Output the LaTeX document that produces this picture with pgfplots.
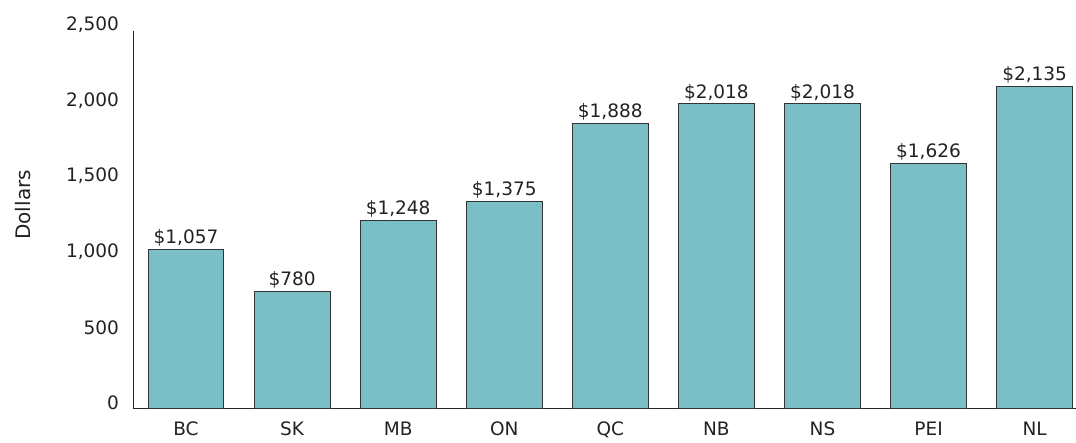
\documentclass[border=0pt]{standalone}
\usepackage{pgfplots}
\pgfplotsset{compat=1.18}
\usepackage{fontspec}
\setmainfont{DejaVu Sans}
\definecolor{barfill}{HTML}{7ABEC6}
\definecolor{txt}{HTML}{222222}
\begin{document}
\begin{tikzpicture}
\useasboundingbox (-133.5pt,-34pt) rectangle (942.5pt,409pt);
\begin{axis}[
  scale only axis,
  width=942.5pt, height=378pt,
  at={(0pt,0pt)}, anchor=south west,
  ymin=0, ymax=2500,
  xmin=-0.495, xmax=8.39,
  axis lines=left,
  axis line style={-, black!85, line width=1pt},
  xtick={0,...,8},
  xticklabels={BC,SK,MB,ON,QC,NB,NS,PEI,NL},
  ytick={0,500,1000,1500,2000,2500},
  major tick length=0pt,
  yticklabel style={xshift=-11pt, yshift=6pt},
  xticklabel style={yshift=-9pt},
  ticklabel style={font=\fontsize{18.5}{21}\selectfont, text=txt},
  /pgf/number format/assume math mode=true,
  /pgf/number format/1000 sep={,},
  clip=false,
]
\addplot[ybar, bar width=0.716, fill=barfill, draw=black!80, line width=1pt,
  nodes near coords={\$\pgfmathprintnumber[1000 sep={,}]{\pgfplotspointmeta}},
  nodes near coords style={font=\fontsize{18.5}{21}\selectfont, text=txt, anchor=south, inner sep=2pt, yshift=0.5pt},
  point meta=explicit]
 coordinates {
 (0,1057) [1057]
 (1,780) [780]
 (2,1248) [1248]
 (3,1375) [1375]
 (4,1888) [1888]
 (5,2018) [2018]
 (6,2018) [2018]
 (7,1626) [1626]
 (8,2135) [2135]
 };
\node[rotate=90, font=\fontsize{20}{22}\selectfont, text=txt] at ([xshift=-110.5pt]rel axis cs:0,0.54) {Dollars};
\end{axis}
\end{tikzpicture}
\end{document}
